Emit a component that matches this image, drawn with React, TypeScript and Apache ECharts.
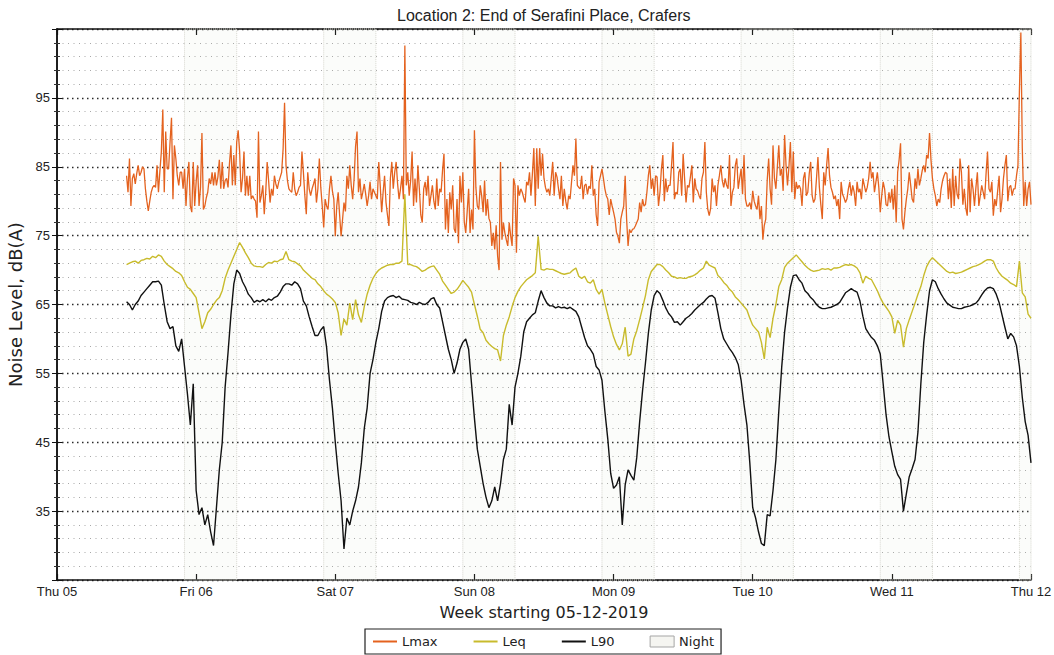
import React, { useEffect, useRef } from "react";
import * as echarts from "echarts";

// Time axis: hours since Thu 05-12-2019 00:00
const dayLabels = ["Thu 05", "Fri 06", "Sat 07", "Sun 08", "Mon 09", "Tue 10", "Wed 11", "Thu 12"];
const startHour = 12; // first sample: Thu 05 12:00
const lmaxStepHours = 0.25;
const levelStepHours = 0.5;
const nightStarts = [22, 46, 70, 94, 118, 142, 166];
const nightLengthHours = 9;
const yTicks = [35, 45, 55, 65, 75, 85, 95];

// Lmax, 15-minute values (4 per hour), Thu 12:00 -> Thu 12 00:00
const lmax = [
  83.7, 81.3, 86.2, 79.3, 83.3, 84.0, 82.5, 84.0, 85.2, 83.7, 84.2, 85.0, 84.7, 81.8, 80.0, 78.6,
  80.0, 81.3, 82.0, 82.3, 82.0, 85.2, 81.3, 84.4, 87.2, 93.3, 81.3, 90.1, 84.7, 84.7, 88.6, 92.1,
  80.3, 88.1, 86.2, 83.7, 82.3, 84.2, 84.2, 81.8, 84.7, 79.3, 83.3, 85.7, 79.3, 78.4, 85.7, 79.3,
  82.8, 85.2, 79.3, 82.0, 89.9, 78.8, 79.3, 80.5, 81.3, 83.3, 82.5, 84.2, 82.3, 84.2, 82.3, 83.5,
  86.0, 81.8, 85.7, 81.8, 83.0, 83.3, 82.0, 85.5, 88.1, 82.3, 86.7, 82.3, 88.6, 90.3, 87.2, 81.3,
  83.3, 87.2, 80.8, 83.7, 80.8, 83.7, 80.3, 80.8, 80.3, 80.0, 77.6, 90.1, 79.8, 80.8, 82.3, 78.1,
  81.3, 85.7, 83.0, 79.8, 81.8, 80.8, 83.7, 82.5, 81.8, 82.8, 83.5, 84.2, 87.6, 94.3, 85.2, 83.0,
  81.8, 81.5, 81.3, 84.2, 81.8, 80.8, 81.3, 82.0, 82.3, 87.2, 84.2, 80.8, 78.1, 84.2, 81.8, 80.8,
  81.8, 82.5, 83.3, 79.8, 81.8, 86.2, 82.0, 79.3, 76.2, 80.3, 79.3, 78.8, 81.8, 83.7, 81.5, 80.3,
  74.9, 79.3, 81.3, 78.0, 74.9, 77.3, 79.8, 78.5,
  83.7, 81.8, 85.2, 82.3, 80.3, 83.3, 88.0, 90.1, 81.3, 83.3, 80.3, 81.3, 82.5, 81.0, 79.3, 80.8,
  82.8, 80.3, 81.8, 81.3, 80.8, 80.3, 85.7, 82.3, 78.4, 81.3, 83.7, 79.8, 78.0, 76.4, 83.3, 85.7,
  81.8, 84.2, 85.7, 82.5, 80.3, 81.8, 83.7, 80.3, 102.6, 82.3, 84.2, 80.8, 83.0, 87.2, 79.3, 83.3,
  79.8, 85.2, 81.8, 78.0, 76.9, 81.8, 82.8, 80.8, 83.7, 79.3, 80.8, 82.3, 80.0, 78.8, 83.3, 79.3,
  81.8, 81.3, 84.5, 86.9, 75.9, 80.3, 75.4, 81.3, 78.8, 82.3, 76.0, 75.4, 80.3, 73.9, 83.7, 79.8,
  84.2, 77.0, 75.4, 78.5, 81.8, 75.4, 78.8, 75.9, 90.3, 82.0, 79.3, 78.8, 82.3, 80.8, 78.4, 83.0,
  77.9, 80.3, 77.5, 76.9, 73.5, 75.4, 73.0, 76.5, 72.0, 70.0, 85.7, 74.4, 76.9, 75.4, 74.4, 73.5,
  76.9, 75.0, 73.5, 83.3, 82.3, 72.5, 82.3, 80.8, 81.8, 81.3, 80.5, 79.8, 82.8, 82.3, 84.2, 80.8,
  84.0, 87.7, 79.3, 87.7, 81.8, 87.7, 83.7, 86.9, 83.3, 82.0, 81.3, 81.8, 80.8, 83.3, 85.7, 80.8,
  84.2, 83.5, 81.8, 80.3, 83.7, 79.3, 81.8, 80.0, 78.8, 80.8, 80.3, 82.8, 85.2, 83.7, 89.1, 82.3,
  82.0, 81.8, 83.7, 80.3,
  82.3, 82.5, 81.0, 82.2, 81.8, 85.2, 80.8, 81.8, 78.0, 76.4, 82.8, 83.7, 84.7, 83.3, 81.8, 80.8,
  80.3, 78.0, 80.3, 79.3, 78.4, 77.4, 75.5, 74.9, 73.9, 77.4, 78.4, 79.3, 83.7, 77.4, 73.5, 75.9,
  75.4, 75.9, 76.0, 76.4, 76.9, 77.4, 79.8, 78.4, 80.3, 79.3, 79.5, 81.3, 83.7, 85.2, 81.8, 83.3,
  80.8, 83.7, 83.5, 79.3, 81.3, 84.7, 86.7, 80.0, 83.3, 81.3, 82.3, 82.3, 85.2, 88.6, 80.3, 81.3,
  81.0, 84.2, 84.7, 80.8, 86.9, 83.3, 79.8, 82.3, 82.0, 83.5, 85.2, 79.8, 83.3, 81.8, 81.5, 80.8,
  80.3, 83.3, 84.2, 88.6, 81.3, 78.8, 77.9, 79.0, 83.3, 81.3, 82.3, 79.3, 82.3, 83.7, 85.2, 83.0,
  82.0, 83.3, 82.3, 81.8, 86.7, 79.3, 81.3, 82.0, 85.2, 86.2, 81.8, 83.3, 84.7, 81.0, 86.7, 80.3,
  79.3, 79.3, 79.8, 78.8, 81.5, 80.0, 79.3, 78.8, 80.8, 77.4, 79.3, 74.4, 76.5, 77.4, 83.0, 86.2,
  81.8, 79.5, 88.1, 83.3, 81.8, 85.0, 88.1, 83.7, 84.7, 81.5, 89.6, 85.2, 82.3, 85.0, 88.6, 81.3,
  87.2, 80.3, 82.8, 81.8, 82.3, 81.8, 79.3, 83.3, 84.2, 80.8, 81.3, 84.0, 85.7, 80.8, 79.8, 80.3,
  83.3, 86.4, 82.0, 79.5, 77.4, 84.2, 82.3, 85.2, 87.7, 83.7, 82.0, 81.3, 80.3, 80.8, 79.3, 80.3,
  77.4, 82.8, 81.0, 80.5, 79.8, 80.3, 81.8, 82.8, 80.8, 82.3, 81.3, 79.3, 82.8, 81.3, 81.8, 80.3,
  83.3, 82.3, 81.3, 82.0, 83.3, 85.7, 83.3, 84.2, 81.3, 82.8, 84.2, 82.0, 78.4, 80.8, 82.8, 81.8,
  79.5, 79.3, 81.3, 79.8, 81.8, 78.8, 82.3, 76.9, 84.2, 86.0, 88.4, 77.4, 75.9, 78.4, 80.3, 81.8,
  84.2, 82.3, 80.3, 79.8, 83.3, 81.8, 84.7, 82.3, 83.3, 84.5, 85.2, 84.2, 86.7, 86.2, 89.9, 86.0,
  83.3, 81.8, 80.8, 79.3, 80.3, 79.8, 81.8, 83.0, 83.7, 84.2, 84.0, 80.3, 83.3, 79.0, 84.7, 79.3,
  83.7, 81.0, 80.3, 86.2, 84.2, 79.5, 81.8, 79.0, 77.9, 85.2, 78.4, 83.3, 81.8, 79.3, 82.0, 84.2,
  79.3, 80.8, 82.3, 81.3, 80.3, 84.0, 87.2, 81.8, 81.3, 82.8, 77.9, 80.3, 79.3, 81.5, 83.7, 78.4,
  80.3, 83.3, 85.2, 86.7, 80.0, 82.0, 82.3, 80.8, 81.8, 81.8, 83.7, 85.2, 96.0, 104.5, 87.7, 79.3,
  82.8, 79.3, 81.8, 82.8, 79.5,
];

// Leq, 30-minute values (2 per hour)
const leq = [
  70.8, 71.0, 71.2, 71.3, 71.0, 71.4, 71.5, 71.7, 71.6, 72.0, 71.8, 72.2, 72.0, 71.3, 70.8, 70.5,
  70.2, 69.8, 69.6, 69.2, 68.3, 67.5, 67.2, 66.6, 66.0, 63.8, 61.5, 62.5, 63.8, 64.3, 65.0, 65.6,
  66.0, 67.0, 68.8, 70.0, 71.0, 72.0, 73.0, 74.0, 73.3, 72.5, 71.8, 71.0, 70.6, 70.5, 70.5, 70.4,
  70.8, 71.1, 71.0, 71.3, 71.2, 71.5, 71.6, 72.7, 71.5, 71.3, 71.2, 70.9, 70.6, 70.0, 69.6, 69.2,
  68.8, 68.6, 68.0, 67.6, 67.0, 66.5, 66.2, 65.8, 65.3, 63.8, 60.5, 62.9, 62.0, 65.2, 62.8, 65.7,
  63.5, 62.4, 64.7, 66.5, 67.8, 68.8, 69.5, 70.0, 70.3, 70.5, 70.7, 70.8, 70.8, 71.0, 71.0, 71.3,
  81.0, 70.8, 70.8, 70.6, 70.5, 70.2, 69.8, 70.0, 70.3, 70.5, 70.6, 70.0, 69.4, 68.4, 67.8, 67.2,
  66.6, 66.8, 67.2, 67.8, 68.5, 68.0, 67.5, 66.8, 65.0, 63.3, 61.4, 60.9, 59.8, 59.3, 58.9, 58.6,
  58.4, 56.8, 60.5, 62.0, 63.2, 64.7, 66.0, 66.9, 67.6, 68.1, 68.6, 68.9, 69.2, 69.6, 74.9, 70.1,
  70.0, 70.2, 70.1, 70.1, 69.9, 69.7, 69.5, 69.4, 69.5, 69.6, 70.0, 70.3, 69.1, 68.8, 69.1, 68.3,
  68.1, 68.6, 67.2, 66.5, 67.2, 65.2, 63.5, 61.8, 60.3, 59.2, 58.4, 59.3, 61.7, 57.5, 57.8, 60.0,
  61.2, 62.8, 64.5, 66.3, 68.6, 69.8, 70.3, 70.8, 70.8, 70.5, 70.0, 69.6, 69.1, 69.0, 68.8, 68.9,
  68.8, 68.8, 69.0, 69.1, 69.3, 69.6, 70.0, 70.3, 71.3, 70.7, 70.5, 70.3, 69.2, 68.8, 68.2, 67.8,
  67.2, 66.8, 66.1, 65.7, 65.2, 64.7, 64.2, 63.0, 62.0, 61.5, 61.0, 59.5, 57.1, 61.7, 60.2, 63.0,
  65.0, 67.6, 68.6, 70.4, 71.0, 71.4, 71.8, 72.2, 71.7, 71.2, 70.7, 70.3, 70.0, 69.8, 69.9, 70.0,
  70.2, 70.1, 70.2, 70.0, 70.3, 70.3, 70.4, 70.6, 70.8, 70.7, 70.8, 70.6, 70.3, 69.6, 68.1, 69.1,
  68.8, 68.6, 67.8, 67.0, 66.0, 65.2, 64.6, 64.0, 63.2, 60.8, 62.7, 62.0, 58.8, 61.5, 62.8, 64.0,
  65.2, 66.5, 67.6, 69.2, 70.5, 71.3, 71.8, 71.4, 71.0, 70.6, 70.2, 69.8, 69.6, 69.7, 69.5, 69.6,
  69.7, 69.9, 70.1, 70.3, 70.5, 70.6, 70.8, 71.0, 71.3, 71.5, 71.5, 71.3, 70.3, 69.6, 69.1, 68.8,
  68.5, 68.1, 67.9, 67.6, 71.3, 66.7, 66.1, 63.6, 63.0,
];

// L90, 30-minute values (2 per hour)
const l90 = [
  65.4, 65.0, 64.2, 65.0, 65.5, 66.3, 66.8, 67.3, 67.8, 68.3, 68.3, 68.4, 67.8, 65.0, 62.5, 61.5,
  61.8, 59.0, 58.2, 60.0, 56.0, 52.0, 47.5, 53.5, 38.0, 34.5, 35.5, 33.0, 34.5, 32.0, 30.0, 35.5,
  41.0, 45.0, 53.0, 58.0, 63.5, 68.0, 70.0, 69.5, 68.3, 67.5, 66.5, 66.0, 65.3, 65.6, 65.4, 65.7,
  65.4, 65.8, 65.6, 66.0, 66.2, 66.8, 67.6, 68.0, 68.0, 67.8, 68.3, 68.0, 67.3, 65.5, 64.8, 63.2,
  61.8, 60.5, 60.5, 61.3, 61.8, 58.8, 54.0, 50.0, 45.0, 40.5, 36.5, 29.5, 34.0, 33.0, 35.0, 36.5,
  38.5, 42.0, 47.0, 50.0, 55.0, 57.0, 59.5, 61.5, 64.0, 65.5, 66.0, 66.2, 66.3, 66.0, 66.2, 65.8,
  65.7, 65.6, 65.3, 65.2, 65.0, 65.3, 65.1, 65.0, 65.3, 65.8, 66.0, 65.0, 64.5, 62.5, 60.5, 58.5,
  57.0, 55.0, 56.5, 58.5, 59.5, 60.0, 58.5, 53.5, 48.5, 44.0, 41.5, 39.0, 37.0, 35.5, 36.5, 38.5,
  36.5, 39.0, 42.5, 44.0, 50.5, 47.5, 53.0, 55.0, 57.5, 61.0, 62.5, 63.0, 63.5, 63.8, 65.5, 67.0,
  66.0, 65.2, 64.8, 64.8, 64.5, 64.7, 64.5, 64.6, 64.4, 64.6, 64.3, 64.0, 63.2, 61.7, 60.2, 59.0,
  58.5, 57.8, 56.0, 55.5, 54.0, 49.5, 45.5, 40.5, 38.3, 38.8, 40.0, 33.0, 38.8, 41.0, 40.2, 39.5,
  42.8, 48.0, 52.5, 56.5, 60.8, 64.2, 66.3, 67.0, 66.6, 65.6, 64.5, 63.7, 63.2, 62.4, 62.5, 62.0,
  62.5, 63.0, 63.3, 63.7, 64.2, 64.6, 65.0, 65.3, 65.8, 66.2, 66.3, 65.9, 63.8, 61.5, 60.0, 59.3,
  58.6, 58.0, 57.3, 56.3, 54.0, 50.5, 47.5, 42.0, 35.5, 34.0, 32.0, 30.3, 30.0, 34.5, 34.3, 38.0,
  42.5, 49.5, 55.9, 61.0, 64.5, 67.5, 69.2, 69.3, 68.6, 68.1, 67.0, 66.6, 66.0, 65.6, 65.0, 64.6,
  64.4, 64.4, 64.5, 64.6, 64.8, 65.0, 65.3, 66.0, 66.7, 67.0, 67.3, 67.0, 66.8, 65.5, 63.3, 61.5,
  60.8, 60.2, 59.8, 59.0, 57.8, 53.5, 49.0, 45.8, 43.6, 41.5, 40.3, 39.6, 35.0, 37.5, 40.0, 41.2,
  42.5, 46.5, 53.5, 59.5, 63.5, 67.0, 68.6, 68.3, 67.3, 66.5, 65.8, 65.2, 64.9, 64.6, 64.5, 64.4,
  64.4, 64.6, 64.7, 64.8, 65.0, 65.2, 65.7, 66.4, 67.0, 67.4, 67.5, 67.3, 66.5, 65.3, 63.5, 61.7,
  60.0, 60.8, 60.3, 59.0, 56.0, 51.5, 48.0, 46.0, 42.0,
];

const LMAX_COLOR = "#e4621f";
const LEQ_COLOR = "#c8bb2c";
const L90_COLOR = "#111111";
const TICK_FONT = '"Liberation Sans", Arial, sans-serif';
const NAME_FONT = '"DejaVu Sans", sans-serif';

export default function App() {
  const ref = useRef<HTMLDivElement>(null);

  useEffect(() => {
    document.body.style.margin = "0";
    if (!ref.current) return;
    const chart = echarts.init(ref.current, null, { renderer: "svg" });

    const toPairs = (arr: number[], step: number) =>
      arr.map((v, i) => [startHour + i * step, v]);

    const nightAreas = nightStarts.map((s) => [
      { xAxis: s },
      { xAxis: Math.min(s + nightLengthHours, 168) },
    ]);

    const lineLegend = (name: string, color: string) => ({
      name,
      itemStyle: { opacity: 0 },
      lineStyle: { color, width: 2 },
    });

    const option: any = {
      animation: false,
      backgroundColor: "#ffffff",
      title: {
        text: "Location 2: End of Serafini Place, Crafers",
        left: 397,
        top: 7,
        padding: 0,
        textStyle: {
          fontFamily: TICK_FONT,
          fontSize: 16,
          fontWeight: "normal",
          color: "#222",
        },
      },
      grid: {
        left: 57,
        right: 23,
        top: 29,
        bottom: 75,
        containLabel: false,
        outerBoundsMode: "none",
      },
      legend: {
        left: 365,
        top: 629,
        padding: [6, 7, 6, 7],
        borderColor: "#222",
        borderWidth: 1.2,
        itemWidth: 24,
        itemHeight: 11,
        itemGap: 35,
        textStyle: { fontFamily: NAME_FONT, fontSize: 13, color: "#222" },
        data: [
          lineLegend("Lmax", LMAX_COLOR),
          lineLegend("Leq", LEQ_COLOR),
          lineLegend("L90", L90_COLOR),
          {
            name: "Night",
            icon: "rect",
            itemStyle: { color: "#f5f5f1", borderColor: "#a5a5a5", borderWidth: 1 },
          },
        ],
      },
      xAxis: [
        {
          type: "value",
          min: 0,
          max: 168,
          interval: 24,
          position: "bottom",
          name: "Week starting 05-12-2019",
          nameLocation: "middle",
          nameGap: 24,
          nameTextStyle: { fontFamily: NAME_FONT, fontSize: 16, color: "#222" },
          axisLine: { lineStyle: { color: "#111", width: 1.5 } },
          axisTick: { inside: true, length: 6, lineStyle: { color: "#111", width: 1.2 } },
          axisLabel: {
            margin: 5,
            fontFamily: TICK_FONT,
            fontSize: 13,
            color: "#222",
            showMinLabel: true,
            showMaxLabel: true,
            formatter: (v: number) => dayLabels[Math.round(v / 24)] ?? "",
          },
          splitLine: { show: false },
        },
        {
          type: "value",
          min: 0,
          max: 168,
          interval: 24,
          position: "top",
          axisLine: { lineStyle: { color: "#111", width: 1.5 } },
          axisTick: { inside: true, length: 6, lineStyle: { color: "#111", width: 1.2 } },
          axisLabel: { show: false },
          splitLine: { show: false },
        },
      ],
      yAxis: [
        {
          type: "value",
          min: 25,
          max: 105,
          interval: 10,
          position: "left",
          name: "Noise Level, dB(A)",
          nameLocation: "middle",
          nameGap: 33,
          nameRotate: 90,
          nameTextStyle: { fontFamily: NAME_FONT, fontSize: 18, color: "#222" },
          axisLine: { show: true, lineStyle: { color: "#111", width: 1.5 } },
          axisTick: { show: true, inside: true, length: 5, lineStyle: { color: "#111" } },
          minorTick: { show: true, splitNumber: 5, length: 3, lineStyle: { color: "#333" } },
          axisLabel: {
            margin: 7,
            fontFamily: TICK_FONT,
            fontSize: 13,
            color: "#222",
            formatter: (v: number) => (yTicks.includes(v) ? String(v) : ""),
          },
          splitLine: {
            show: true,
            lineStyle: { color: "#2a2a2a", width: 1.4, type: [1.5, 3.5] },
          },
          minorSplitLine: {
            show: true,
            lineStyle: { color: "#a8a8a8", width: 1, type: [1, 4.5] },
          },
        },
        {
          type: "value",
          min: 25,
          max: 105,
          interval: 10,
          position: "right",
          axisLine: { show: true, lineStyle: { color: "#111", width: 1.5 } },
          axisTick: { show: true, inside: true, length: 5, lineStyle: { color: "#111" } },
          minorTick: { show: true, splitNumber: 5, length: 3, lineStyle: { color: "#333" } },
          axisLabel: { show: false },
          splitLine: { show: false },
          minorSplitLine: { show: false },
        },
      ],
      series: [
        {
          name: "Night",
          type: "line",
          data: [],
          symbol: "none",
          itemStyle: { color: "#f5f5f1" },
          lineStyle: { width: 0 },
          silent: true,
          markArea: {
            silent: true,
            itemStyle: {
              color: "rgba(205,212,185,0.08)",
              borderColor: "#d6d6ce",
              borderWidth: 1,
              borderType: "dotted",
            },
            data: nightAreas,
          },
        },
        {
          name: "Lmax",
          type: "line",
          data: toPairs(lmax, lmaxStepHours),
          symbol: "none",
          showSymbol: false,
          lineStyle: { color: LMAX_COLOR, width: 1.3 },
          itemStyle: { color: LMAX_COLOR },
        },
        {
          name: "Leq",
          type: "line",
          data: toPairs(leq, levelStepHours),
          symbol: "none",
          showSymbol: false,
          lineStyle: { color: LEQ_COLOR, width: 1.4 },
          itemStyle: { color: LEQ_COLOR },
        },
        {
          name: "L90",
          type: "line",
          data: toPairs(l90, levelStepHours),
          symbol: "none",
          showSymbol: false,
          lineStyle: { color: L90_COLOR, width: 1.4 },
          itemStyle: { color: L90_COLOR },
        },
      ],
    };

    chart.setOption(option);
    return () => chart.dispose();
  }, []);

  return <div ref={ref} style={{ width: 1054, height: 655 }} />;
}
